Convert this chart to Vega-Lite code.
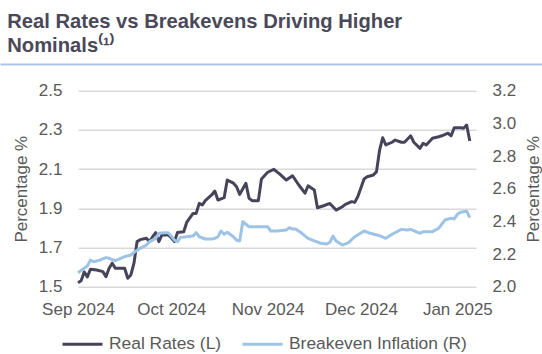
{
  "$schema": "https://vega.github.io/schema/vega-lite/v6.json",
  "width": 398,
  "height": 196,
  "autosize": {"type": "none"},
  "padding": {"left": 78, "top": 90.7, "right": 66, "bottom": 67.3},
  "background": "white",
  "title": {
    "text": ["Real Rates vs Breakevens Driving Higher", "Nominals⁽¹⁾"],
    "anchor": "start",
    "frame": "bounds",
    "font": "Liberation Sans",
    "fontSize": 20.2,
    "fontWeight": "bold",
    "color": "#4a4859",
    "lineHeight": 24,
    "offset": 8,
    "dx": 10
  },
  "config": {
    "view": {"stroke": null},
    "axis": {
      "labelFont": "Liberation Sans",
      "labelFontSize": 17,
      "labelColor": "#595959",
      "titleFont": "Liberation Sans",
      "titleFontSize": 17,
      "titleFontWeight": "normal",
      "titleColor": "#595959",
      "domain": false,
      "ticks": false
    },
    "legend": {
      "labelFont": "Liberation Sans",
      "labelFontSize": 17.4,
      "labelColor": "#595959",
      "labelLimit": 400
    }
  },
  "data": {
    "values": [
      {"date": "2024-09-01", "series": "Real Rates (L)", "value": 1.52},
      {"date": "2024-09-02", "series": "Real Rates (L)", "value": 1.53},
      {"date": "2024-09-03", "series": "Real Rates (L)", "value": 1.575},
      {"date": "2024-09-04", "series": "Real Rates (L)", "value": 1.55},
      {"date": "2024-09-05", "series": "Real Rates (L)", "value": 1.589},
      {"date": "2024-09-07", "series": "Real Rates (L)", "value": 1.585},
      {"date": "2024-09-09", "series": "Real Rates (L)", "value": 1.577},
      {"date": "2024-09-10", "series": "Real Rates (L)", "value": 1.551},
      {"date": "2024-09-11", "series": "Real Rates (L)", "value": 1.594},
      {"date": "2024-09-12", "series": "Real Rates (L)", "value": 1.62},
      {"date": "2024-09-13", "series": "Real Rates (L)", "value": 1.594},
      {"date": "2024-09-16", "series": "Real Rates (L)", "value": 1.594},
      {"date": "2024-09-17", "series": "Real Rates (L)", "value": 1.543},
      {"date": "2024-09-18", "series": "Real Rates (L)", "value": 1.56},
      {"date": "2024-09-19", "series": "Real Rates (L)", "value": 1.62},
      {"date": "2024-09-20", "series": "Real Rates (L)", "value": 1.73},
      {"date": "2024-09-21", "series": "Real Rates (L)", "value": 1.74},
      {"date": "2024-09-23", "series": "Real Rates (L)", "value": 1.747},
      {"date": "2024-09-24", "series": "Real Rates (L)", "value": 1.73},
      {"date": "2024-09-25", "series": "Real Rates (L)", "value": 1.755},
      {"date": "2024-09-26", "series": "Real Rates (L)", "value": 1.776},
      {"date": "2024-09-27", "series": "Real Rates (L)", "value": 1.73},
      {"date": "2024-09-28", "series": "Real Rates (L)", "value": 1.764},
      {"date": "2024-09-30", "series": "Real Rates (L)", "value": 1.764},
      {"date": "2024-10-01", "series": "Real Rates (L)", "value": 1.75},
      {"date": "2024-10-02", "series": "Real Rates (L)", "value": 1.73},
      {"date": "2024-10-03", "series": "Real Rates (L)", "value": 1.776},
      {"date": "2024-10-05", "series": "Real Rates (L)", "value": 1.78},
      {"date": "2024-10-06", "series": "Real Rates (L)", "value": 1.83},
      {"date": "2024-10-08", "series": "Real Rates (L)", "value": 1.874},
      {"date": "2024-10-09", "series": "Real Rates (L)", "value": 1.874},
      {"date": "2024-10-10", "series": "Real Rates (L)", "value": 1.925},
      {"date": "2024-10-11", "series": "Real Rates (L)", "value": 1.917},
      {"date": "2024-10-12", "series": "Real Rates (L)", "value": 1.94},
      {"date": "2024-10-14", "series": "Real Rates (L)", "value": 1.968},
      {"date": "2024-10-15", "series": "Real Rates (L)", "value": 1.988},
      {"date": "2024-10-16", "series": "Real Rates (L)", "value": 1.942},
      {"date": "2024-10-18", "series": "Real Rates (L)", "value": 1.954},
      {"date": "2024-10-19", "series": "Real Rates (L)", "value": 2.044},
      {"date": "2024-10-21", "series": "Real Rates (L)", "value": 2.028},
      {"date": "2024-10-22", "series": "Real Rates (L)", "value": 2.01},
      {"date": "2024-10-23", "series": "Real Rates (L)", "value": 1.971},
      {"date": "2024-10-25", "series": "Real Rates (L)", "value": 2.028},
      {"date": "2024-10-26", "series": "Real Rates (L)", "value": 1.951},
      {"date": "2024-10-27", "series": "Real Rates (L)", "value": 1.939},
      {"date": "2024-10-29", "series": "Real Rates (L)", "value": 1.939},
      {"date": "2024-10-30", "series": "Real Rates (L)", "value": 2.05},
      {"date": "2024-11-01", "series": "Real Rates (L)", "value": 2.084},
      {"date": "2024-11-03", "series": "Real Rates (L)", "value": 2.099},
      {"date": "2024-11-05", "series": "Real Rates (L)", "value": 2.073},
      {"date": "2024-11-07", "series": "Real Rates (L)", "value": 2.044},
      {"date": "2024-11-09", "series": "Real Rates (L)", "value": 2.066},
      {"date": "2024-11-11", "series": "Real Rates (L)", "value": 2.019},
      {"date": "2024-11-13", "series": "Real Rates (L)", "value": 1.977},
      {"date": "2024-11-14", "series": "Real Rates (L)", "value": 2.015},
      {"date": "2024-11-16", "series": "Real Rates (L)", "value": 1.993},
      {"date": "2024-11-17", "series": "Real Rates (L)", "value": 1.903},
      {"date": "2024-11-19", "series": "Real Rates (L)", "value": 1.913},
      {"date": "2024-11-21", "series": "Real Rates (L)", "value": 1.925},
      {"date": "2024-11-23", "series": "Real Rates (L)", "value": 1.891},
      {"date": "2024-11-25", "series": "Real Rates (L)", "value": 1.908},
      {"date": "2024-11-26", "series": "Real Rates (L)", "value": 1.92},
      {"date": "2024-11-28", "series": "Real Rates (L)", "value": 1.934},
      {"date": "2024-11-29", "series": "Real Rates (L)", "value": 1.93},
      {"date": "2024-11-30", "series": "Real Rates (L)", "value": 1.96},
      {"date": "2024-12-02", "series": "Real Rates (L)", "value": 2.05},
      {"date": "2024-12-03", "series": "Real Rates (L)", "value": 2.061},
      {"date": "2024-12-05", "series": "Real Rates (L)", "value": 2.07},
      {"date": "2024-12-06", "series": "Real Rates (L)", "value": 2.087},
      {"date": "2024-12-07", "series": "Real Rates (L)", "value": 2.197},
      {"date": "2024-12-08", "series": "Real Rates (L)", "value": 2.26},
      {"date": "2024-12-09", "series": "Real Rates (L)", "value": 2.223},
      {"date": "2024-12-11", "series": "Real Rates (L)", "value": 2.237},
      {"date": "2024-12-12", "series": "Real Rates (L)", "value": 2.248},
      {"date": "2024-12-14", "series": "Real Rates (L)", "value": 2.237},
      {"date": "2024-12-15", "series": "Real Rates (L)", "value": 2.237},
      {"date": "2024-12-17", "series": "Real Rates (L)", "value": 2.27},
      {"date": "2024-12-18", "series": "Real Rates (L)", "value": 2.237},
      {"date": "2024-12-20", "series": "Real Rates (L)", "value": 2.206},
      {"date": "2024-12-21", "series": "Real Rates (L)", "value": 2.232},
      {"date": "2024-12-22", "series": "Real Rates (L)", "value": 2.223},
      {"date": "2024-12-24", "series": "Real Rates (L)", "value": 2.257},
      {"date": "2024-12-26", "series": "Real Rates (L)", "value": 2.265},
      {"date": "2024-12-27", "series": "Real Rates (L)", "value": 2.27},
      {"date": "2024-12-29", "series": "Real Rates (L)", "value": 2.283},
      {"date": "2024-12-30", "series": "Real Rates (L)", "value": 2.27},
      {"date": "2024-12-31", "series": "Real Rates (L)", "value": 2.311},
      {"date": "2025-01-02", "series": "Real Rates (L)", "value": 2.311},
      {"date": "2025-01-03", "series": "Real Rates (L)", "value": 2.308},
      {"date": "2025-01-04", "series": "Real Rates (L)", "value": 2.325},
      {"date": "2025-01-05", "series": "Real Rates (L)", "value": 2.243},
      {"date": "2024-09-01", "series": "Breakeven Inflation (R)", "value": 2.086},
      {"date": "2024-09-03", "series": "Breakeven Inflation (R)", "value": 2.113},
      {"date": "2024-09-04", "series": "Breakeven Inflation (R)", "value": 2.127},
      {"date": "2024-09-05", "series": "Breakeven Inflation (R)", "value": 2.163},
      {"date": "2024-09-06", "series": "Breakeven Inflation (R)", "value": 2.153},
      {"date": "2024-09-08", "series": "Breakeven Inflation (R)", "value": 2.163},
      {"date": "2024-09-10", "series": "Breakeven Inflation (R)", "value": 2.178},
      {"date": "2024-09-11", "series": "Breakeven Inflation (R)", "value": 2.174},
      {"date": "2024-09-13", "series": "Breakeven Inflation (R)", "value": 2.159},
      {"date": "2024-09-14", "series": "Breakeven Inflation (R)", "value": 2.168},
      {"date": "2024-09-16", "series": "Breakeven Inflation (R)", "value": 2.184},
      {"date": "2024-09-18", "series": "Breakeven Inflation (R)", "value": 2.194},
      {"date": "2024-09-19", "series": "Breakeven Inflation (R)", "value": 2.21},
      {"date": "2024-09-21", "series": "Breakeven Inflation (R)", "value": 2.235},
      {"date": "2024-09-23", "series": "Breakeven Inflation (R)", "value": 2.255},
      {"date": "2024-09-24", "series": "Breakeven Inflation (R)", "value": 2.276},
      {"date": "2024-09-26", "series": "Breakeven Inflation (R)", "value": 2.296},
      {"date": "2024-09-27", "series": "Breakeven Inflation (R)", "value": 2.327},
      {"date": "2024-09-29", "series": "Breakeven Inflation (R)", "value": 2.331},
      {"date": "2024-09-30", "series": "Breakeven Inflation (R)", "value": 2.331},
      {"date": "2024-10-01", "series": "Breakeven Inflation (R)", "value": 2.31},
      {"date": "2024-10-02", "series": "Breakeven Inflation (R)", "value": 2.285},
      {"date": "2024-10-03", "series": "Breakeven Inflation (R)", "value": 2.276},
      {"date": "2024-10-04", "series": "Breakeven Inflation (R)", "value": 2.302},
      {"date": "2024-10-06", "series": "Breakeven Inflation (R)", "value": 2.306},
      {"date": "2024-10-08", "series": "Breakeven Inflation (R)", "value": 2.31},
      {"date": "2024-10-09", "series": "Breakeven Inflation (R)", "value": 2.331},
      {"date": "2024-10-10", "series": "Breakeven Inflation (R)", "value": 2.306},
      {"date": "2024-10-12", "series": "Breakeven Inflation (R)", "value": 2.292},
      {"date": "2024-10-14", "series": "Breakeven Inflation (R)", "value": 2.292},
      {"date": "2024-10-15", "series": "Breakeven Inflation (R)", "value": 2.296},
      {"date": "2024-10-16", "series": "Breakeven Inflation (R)", "value": 2.306},
      {"date": "2024-10-17", "series": "Breakeven Inflation (R)", "value": 2.341},
      {"date": "2024-10-18", "series": "Breakeven Inflation (R)", "value": 2.321},
      {"date": "2024-10-19", "series": "Breakeven Inflation (R)", "value": 2.333},
      {"date": "2024-10-21", "series": "Breakeven Inflation (R)", "value": 2.306},
      {"date": "2024-10-22", "series": "Breakeven Inflation (R)", "value": 2.285},
      {"date": "2024-10-23", "series": "Breakeven Inflation (R)", "value": 2.28},
      {"date": "2024-10-24", "series": "Breakeven Inflation (R)", "value": 2.398},
      {"date": "2024-10-26", "series": "Breakeven Inflation (R)", "value": 2.367},
      {"date": "2024-10-27", "series": "Breakeven Inflation (R)", "value": 2.367},
      {"date": "2024-10-29", "series": "Breakeven Inflation (R)", "value": 2.367},
      {"date": "2024-11-01", "series": "Breakeven Inflation (R)", "value": 2.367},
      {"date": "2024-11-02", "series": "Breakeven Inflation (R)", "value": 2.341},
      {"date": "2024-11-04", "series": "Breakeven Inflation (R)", "value": 2.341},
      {"date": "2024-11-07", "series": "Breakeven Inflation (R)", "value": 2.347},
      {"date": "2024-11-08", "series": "Breakeven Inflation (R)", "value": 2.361},
      {"date": "2024-11-09", "series": "Breakeven Inflation (R)", "value": 2.353},
      {"date": "2024-11-10", "series": "Breakeven Inflation (R)", "value": 2.353},
      {"date": "2024-11-12", "series": "Breakeven Inflation (R)", "value": 2.327},
      {"date": "2024-11-14", "series": "Breakeven Inflation (R)", "value": 2.296},
      {"date": "2024-11-16", "series": "Breakeven Inflation (R)", "value": 2.28},
      {"date": "2024-11-18", "series": "Breakeven Inflation (R)", "value": 2.266},
      {"date": "2024-11-20", "series": "Breakeven Inflation (R)", "value": 2.261},
      {"date": "2024-11-21", "series": "Breakeven Inflation (R)", "value": 2.272},
      {"date": "2024-11-22", "series": "Breakeven Inflation (R)", "value": 2.31},
      {"date": "2024-11-23", "series": "Breakeven Inflation (R)", "value": 2.28},
      {"date": "2024-11-25", "series": "Breakeven Inflation (R)", "value": 2.255},
      {"date": "2024-11-27", "series": "Breakeven Inflation (R)", "value": 2.27},
      {"date": "2024-11-29", "series": "Breakeven Inflation (R)", "value": 2.306},
      {"date": "2024-12-02", "series": "Breakeven Inflation (R)", "value": 2.341},
      {"date": "2024-12-04", "series": "Breakeven Inflation (R)", "value": 2.327},
      {"date": "2024-12-07", "series": "Breakeven Inflation (R)", "value": 2.312},
      {"date": "2024-12-09", "series": "Breakeven Inflation (R)", "value": 2.296},
      {"date": "2024-12-11", "series": "Breakeven Inflation (R)", "value": 2.321},
      {"date": "2024-12-14", "series": "Breakeven Inflation (R)", "value": 2.351},
      {"date": "2024-12-16", "series": "Breakeven Inflation (R)", "value": 2.347},
      {"date": "2024-12-17", "series": "Breakeven Inflation (R)", "value": 2.351},
      {"date": "2024-12-20", "series": "Breakeven Inflation (R)", "value": 2.327},
      {"date": "2024-12-21", "series": "Breakeven Inflation (R)", "value": 2.337},
      {"date": "2024-12-24", "series": "Breakeven Inflation (R)", "value": 2.337},
      {"date": "2024-12-26", "series": "Breakeven Inflation (R)", "value": 2.358},
      {"date": "2024-12-28", "series": "Breakeven Inflation (R)", "value": 2.408},
      {"date": "2024-12-30", "series": "Breakeven Inflation (R)", "value": 2.419},
      {"date": "2024-12-31", "series": "Breakeven Inflation (R)", "value": 2.415},
      {"date": "2025-01-01", "series": "Breakeven Inflation (R)", "value": 2.443},
      {"date": "2025-01-02", "series": "Breakeven Inflation (R)", "value": 2.456},
      {"date": "2025-01-04", "series": "Breakeven Inflation (R)", "value": 2.462},
      {"date": "2025-01-05", "series": "Breakeven Inflation (R)", "value": 2.423}
    ]
  },
  "encoding": {
    "color": {
      "field": "series",
      "type": "nominal",
      "scale": {"domain": ["Real Rates (L)", "Breakeven Inflation (R)"], "range": ["#46445a", "#9dc3e6"]},
      "legend": {
        "title": null,
        "orient": "none",
        "direction": "horizontal",
        "legendX": -17,
        "legendY": 232,
        "symbolType": "stroke",
        "symbolSize": 1600,
        "symbolStrokeWidth": 3,
        "labelOffset": 5,
        "columnPadding": 14,
        "padding": 0
      }
    }
  },
  "layer": [
    {
      "transform": [{"filter": "datum.series === 'Real Rates (L)'"}],
      "mark": {"type": "line", "strokeWidth": 3, "strokeJoin": "round"},
      "encoding": {
        "x": {
          "field": "date",
          "type": "temporal",
          "scale": {"type": "utc", "domain": ["2024-09-01", "2025-01-07"]},
          "axis": {
            "title": null,
            "format": "%b %Y",
            "values": ["2024-09-01", "2024-10-01", "2024-11-01", "2024-12-01", "2025-01-01"],
            "labelPadding": 15,
            "labelFlush": false,
            "grid": false,
            "labelOverlap": false
          }
        },
        "y": {
          "field": "value",
          "type": "quantitative",
          "scale": {"domain": [1.5, 2.5], "nice": false, "zero": false},
          "axis": {
            "title": "Percentage %",
            "values": [1.5, 1.7, 1.9, 2.1, 2.3, 2.5],
            "format": ".1f",
            "labelPadding": 16,
            "titlePadding": 8,
            "grid": true,
            "gridColor": "#d9d9d9",
            "gridWidth": 1.5
          }
        }
      }
    },
    {
      "transform": [{"filter": "datum.series === 'Breakeven Inflation (R)'"}],
      "mark": {"type": "line", "strokeWidth": 3, "strokeJoin": "round"},
      "encoding": {
        "x": {
          "field": "date",
          "type": "temporal",
          "scale": {"type": "utc", "domain": ["2024-09-01", "2025-01-07"]},
          "axis": null
        },
        "y": {
          "field": "value",
          "type": "quantitative",
          "scale": {"domain": [2.0, 3.2], "nice": false, "zero": false},
          "axis": {
            "orient": "right",
            "title": "Percentage %",
            "titleAngle": 270,
            "titleBaseline": "top",
            "values": [2.0, 2.2, 2.4, 2.6, 2.8, 3.0, 3.2],
            "format": ".1f",
            "labelPadding": 16,
            "titlePadding": 10,
            "grid": false
          }
        }
      }
    },
    {
      "mark": {"type": "point", "opacity": 0},
      "encoding": {
        "x": {
          "field": "date",
          "type": "temporal",
          "scale": {"type": "utc", "domain": ["2024-09-01", "2025-01-07"], "range": [-78, 464]},
          "axis": {
            "orient": "top",
            "title": null,
            "labels": false,
            "ticks": false,
            "grid": false,
            "domain": true,
            "domainColor": "#a9c6e8",
            "domainWidth": 2,
            "offset": 26.7
          }
        }
      }
    }
  ],
  "resolve": {"scale": {"x": "independent", "y": "independent"}, "axis": {"x": "independent"}}
}
